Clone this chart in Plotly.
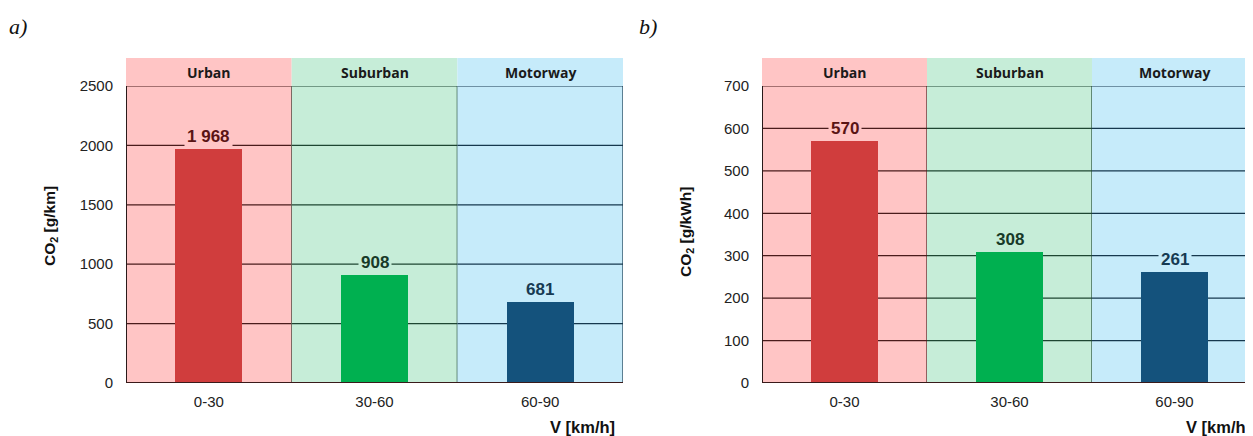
import plotly.graph_objects as go

# ---- data ----
categories = ["0-30", "30-60", "60-90"]
zones = ["Urban", "Suburban", "Motorway"]
co2_per_km = [1968, 908, 681]
co2_per_kwh = [570, 308, 261]
labels_km = ["1 968", "908", "681"]
labels_kwh = ["570", "308", "261"]
ticks_km = [0, 500, 1000, 1500, 2000, 2500]
ticks_kwh = [0, 100, 200, 300, 400, 500, 600, 700]

# ---- styles ----
band_colors = ["#FFC5C5", "#C6EDD8", "#C6EBFA"]
bar_colors = ["#D03D3D", "#00B050", "#14527C"]
line_colors = ["#4A1C1C", "#1E4632", "#16384E"]
label_colors = ["#5A1414", "#173A28", "#163A52"]

# page body has an 8px margin; figure sized so it fits the window
OX, OY = 8, 8
FW, FH = 1245, 428
def px(x): return (x - OX) / FW
def py(y): return 1 - (y - OY) / FH

y_dom = [py(383), py(86)]
head_top = py(58)
head_mid = py(72)

panels = [
    dict(xa="x", ya="y", dom=[px(126), px(623)], xr=[-0.5, 2.5], ymax=2500,
         vals=co2_per_km, labs=labels_km, ticks=ticks_km,
         ytitle="CO<sub>2</sub> [g/km]", ytx=px(50), yty=py(226),
         xtitle_x=px(617), tag="a)", tag_x=px(7)),
    dict(xa="x2", ya="y2", dom=[px(762), 1.0], xr=[-0.5, -0.5 + (FW + OX - 762) / 165], ymax=700,
         vals=co2_per_kwh, labs=labels_kwh, ticks=ticks_kwh,
         ytitle="CO<sub>2</sub> [g/kWh]", ytx=px(687), yty=py(232),
         xtitle_x=1.0, tag="b)", tag_x=px(637)),
]

fig = go.Figure()
shapes = []
annotations = []
xpos = [0, 1, 2]

for k, p in enumerate(panels):
    fig.add_trace(go.Bar(
        x=xpos, y=p["vals"], marker=dict(color=bar_colors, line=dict(width=0)),
        width=0.405, xaxis=p["xa"], yaxis=p["ya"], showlegend=False,
        hoverinfo="skip"))
    xref = p["xa"]
    yref = p["ya"]
    for i in range(3):
        shapes.append(dict(type="rect", xref=xref, yref=yref, x0=i - 0.5, x1=i + 0.5,
                           y0=0, y1=p["ymax"], fillcolor=band_colors[i],
                           line=dict(width=0), layer="below"))
        shapes.append(dict(type="rect", xref=xref, yref="paper", x0=i - 0.5, x1=i + 0.5,
                           y0=y_dom[1], y1=head_top, fillcolor=band_colors[i],
                           line=dict(width=0), layer="below"))
        annotations.append(dict(text="<b>" + zones[i] + "</b>", xref=xref, yref="paper",
                                x=i, y=head_mid, showarrow=False, xanchor="center",
                                yanchor="middle",
                                font=dict(family="Open Sans", size=14, color="#1a1a1a")))
        for t in p["ticks"][1:]:
            shapes.append(dict(type="line", xref=xref, yref=yref, x0=i - 0.5, x1=i + 0.5,
                               y0=t, y1=t, line=dict(color=line_colors[i], width=1.2),
                               layer="below"))
        shapes.append(dict(type="line", xref=xref, yref=yref, x0=i + 0.5, x1=i + 0.5,
                           y0=0, y1=p["ymax"], line=dict(color=line_colors[i], width=1.2),
                           layer="below"))
        annotations.append(dict(text="<b>" + p["labs"][i] + "</b>", xref=xref, yref=yref,
                                x=i, y=p["vals"][i], yshift=13, xanchor="center",
                                yanchor="middle",
                                showarrow=False, bgcolor=band_colors[i], borderpad=2,
                                font=dict(family="Liberation Sans", size=17,
                                          color=label_colors[i])))
    shapes.append(dict(type="line", xref=xref, yref=yref, x0=-0.5, x1=-0.5, y0=0,
                       y1=p["ymax"], line=dict(color="#2a1a1a", width=2)))
    shapes.append(dict(type="line", xref=xref + " domain", yref=yref, x0=0, x1=1, y0=0,
                       y1=0, line=dict(color="#3a1a1a", width=2)))
    annotations.append(dict(text="<b>" + p["ytitle"] + "</b>", xref="paper", yref="paper",
                            x=p["ytx"], y=p["yty"], textangle=-90, showarrow=False,
                            xanchor="center", yanchor="middle",
                            font=dict(family="Liberation Sans", size=15.5, color="#111")))
    annotations.append(dict(text="<b>V [km/h]</b>", xref="paper", yref="paper",
                            x=p["xtitle_x"], y=py(427), xanchor="right", yanchor="middle",
                            showarrow=False,
                            font=dict(family="Liberation Sans", size=16.5, color="#111")))
    annotations.append(dict(text="<i>" + p["tag"] + "</i>", xref="paper", yref="paper",
                            x=p["tag_x"], y=py(27), xanchor="left", yanchor="middle",
                            showarrow=False,
                            font=dict(family="Liberation Serif", size=22, color="#111")))

axis_font = dict(family="Liberation Sans", size=15, color="#222")
common_x = dict(tickvals=xpos, ticktext=categories, showgrid=False, zeroline=False,
                tickfont=axis_font, ticks="", ticklabelstandoff=8, fixedrange=True)
common_y = dict(domain=y_dom, showgrid=False, zeroline=False, tickfont=axis_font,
                ticks="", ticklabelstandoff=12, fixedrange=True)
fig.update_layout(
    width=FW, height=FH, margin=dict(l=0, r=0, t=0, b=0, autoexpand=False),
    paper_bgcolor="white", plot_bgcolor="rgba(0,0,0,0)",
    shapes=shapes, annotations=annotations, bargap=0,
    xaxis=dict(domain=panels[0]["dom"], range=panels[0]["xr"], **common_x),
    yaxis=dict(range=[0, 2500], tickvals=ticks_km, **common_y),
    xaxis2=dict(domain=panels[1]["dom"], range=panels[1]["xr"], anchor="y2", **common_x),
    yaxis2=dict(range=[0, 700], tickvals=ticks_kwh, anchor="x2", **common_y),
)

fig.write_html("out.html")
